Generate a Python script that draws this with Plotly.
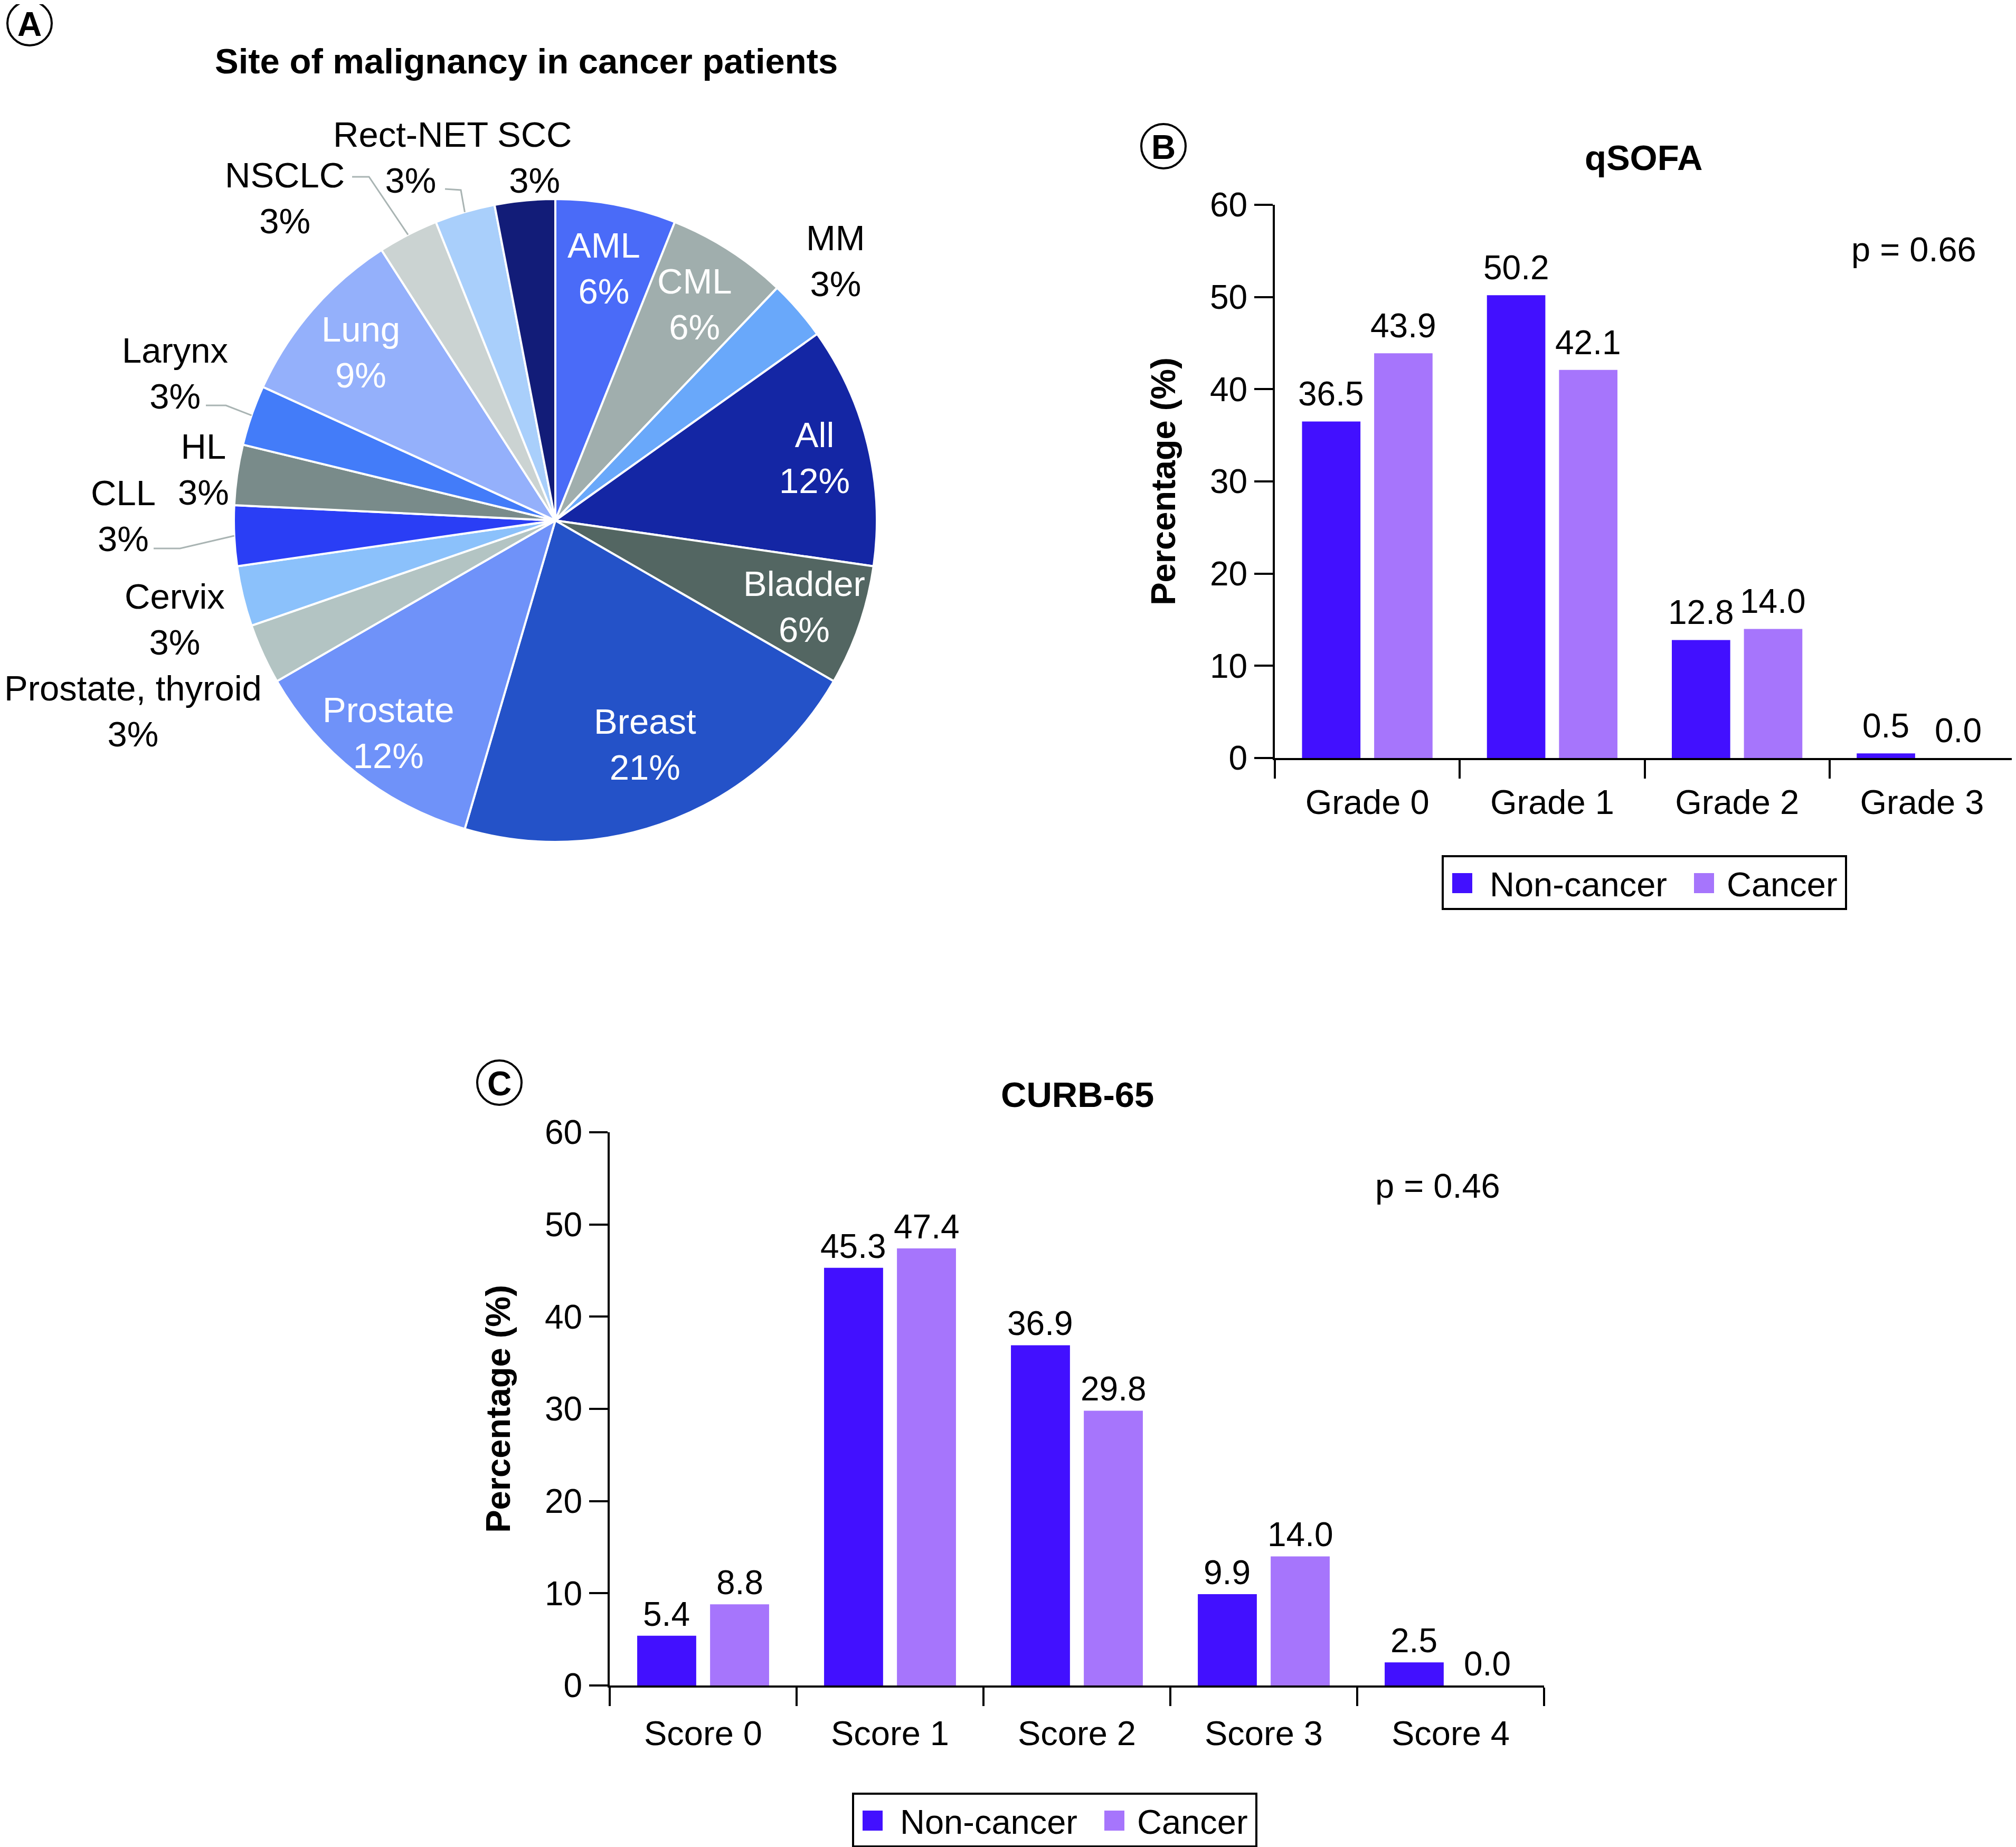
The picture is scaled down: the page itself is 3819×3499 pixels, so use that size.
import math
import plotly.graph_objects as go

W, H = 3819, 3499
OFF = 8  # the page body margin shifts the figure by this many pixels
FONT = "Liberation Sans, Arial, Helvetica, sans-serif"

# ---------------- Panel A data ----------------
sites = ["AML", "CML", "MM", "All", "Bladder", "Breast", "Prostate",
         "Prostate, thyroid", "Cervix", "CLL", "HL", "Larynx", "Lung",
         "NSCLC", "Rect-NET", "SCC"]
site_counts = [2, 2, 1, 4, 2, 7, 4, 1, 1, 1, 1, 1, 3, 1, 1, 1]
site_colors = ["#4a6bf8", "#a0aead", "#69a8fa", "#1426a4", "#536662", "#2452c8",
               "#6f92f9", "#b3c4c3", "#8bc1fb", "#2a3ef5", "#798b8a", "#437cf9",
               "#94b0fb", "#cbd3d2", "#a9cffb", "#121c78"]

# ---------------- Panel B data ----------------
qsofa_cats = ["Grade 0", "Grade 1", "Grade 2", "Grade 3"]
qsofa_noncancer = [36.5, 50.2, 12.8, 0.5]
qsofa_cancer = [43.9, 42.1, 14.0, 0.0]

# ---------------- Panel C data ----------------
curb_cats = ["Score 0", "Score 1", "Score 2", "Score 3", "Score 4"]
curb_noncancer = [5.4, 45.3, 36.9, 9.9, 2.5]
curb_cancer = [8.8, 47.4, 29.8, 14.0, 0.0]

series_names = ["Non-cancer", "Cancer"]
series_colors = ["#4210ff", "#a675fc"]
p_values = ["p = 0.66", "p = 0.46"]

BARGAP, BARGROUPGAP = 0.22, 0.19


def px(x):
    return (x - OFF) / W


def py(y):
    return 1 - (y - OFF) / H


fig = go.Figure()
annotations = []
shapes = []

# ---------------- Pie ----------------
CX, CY, R = 1052, 986, 609
fig.add_trace(go.Pie(
    labels=sites, values=site_counts, sort=False, direction="clockwise",
    rotation=0, textinfo="none", showlegend=False, automargin=False,
    marker=dict(colors=site_colors, line=dict(color="white", width=4)),
    domain=dict(x=[px(CX - R), px(CX + R)], y=[py(CY + R), py(CY - R)]),
))

# ---------------- Bars B and C ----------------
panels = [(qsofa_cats, [qsofa_noncancer, qsofa_cancer], "x", "y", 14),
          (curb_cats, [curb_noncancer, curb_cancer], "x2", "y2", 3)]
for cats, series, xa, ya, lift in panels:
    for k, (vals, name, col) in enumerate(zip(series, series_names, series_colors)):
        fig.add_trace(go.Bar(
            x=cats, y=vals, name=name, marker_color=col, showlegend=False,
            xaxis=xa, yaxis=ya))
        # value labels above bars, at the bar's position within its group
        for i, v in enumerate(vals):
            annotations.append(dict(
                x=i + (k - 0.5) * (1 - BARGAP) / 2, y=v, xref=xa, yref=ya,
                text=f"{v:.1f}", showarrow=False, xanchor="center", yanchor="bottom",
                yshift=lift, font=dict(size=64, color="black", family=FONT)))

axis_common = dict(showline=True, linewidth=4, linecolor="black", ticks="outside",
                   ticklen=35, tickwidth=4, tickcolor="black", showgrid=False,
                   zeroline=False, automargin=False,
                   tickfont=dict(size=65, color="black", family=FONT))
xcommon = dict(axis_common, type="category", tickson="boundaries")
ycommon = dict(axis_common, range=[0, 60], dtick=10, tick0=0,
               title=dict(text="<b>Percentage (%)</b>", standoff=45,
                          font=dict(size=65, color="black", family=FONT)))
ycommon["tickfont"] = dict(size=64, color="black", family=FONT)

fig.update_layout(
    template="none",
    width=W, height=H, autosize=False,
    margin=dict(l=0, r=0, t=0, b=0, pad=0, autoexpand=False),
    paper_bgcolor="white", plot_bgcolor="white",
    font=dict(family=FONT, color="black", size=65),
    barmode="group", bargap=BARGAP, bargroupgap=BARGROUPGAP,
    xaxis=dict(xcommon, domain=[px(2415), px(3816)], anchor="y", ticklabelstandoff=24),
    yaxis=dict(ycommon, domain=[py(1436), py(388)], anchor="x"),
    xaxis2=dict(xcommon, domain=[px(1155), px(2925)], anchor="y2", ticklabelstandoff=31),
    yaxis2=dict(ycommon, domain=[py(3193), py(2145)], anchor="x2"),
)


def note(x, y, text, size=65, color="black", xanchor="center", yanchor="middle"):
    annotations.append(dict(x=px(x), y=py(y), xref="paper", yref="paper", text=text,
                            showarrow=False, xanchor=xanchor, yanchor=yanchor,
                            font=dict(size=size, color=color, family=FONT)))


# pie slice labels
total = sum(site_counts)
mid_angles = []
cum = 0
for c in site_counts:
    mid_angles.append(2 * math.pi * (cum + c / 2) / total)
    cum += c

inside_factor = {"AML": 0.80, "CML": 0.80, "All": 0.83, "Bladder": 0.82,
                 "Breast": 0.75, "Prostate": 0.84, "Lung": 0.80}
outside_pos = {"MM": (1583, 494), "Rect-NET": (778, 298), "SCC": (1012, 298),
               "NSCLC": (539, 375), "Larynx": (331, 707), "HL": (385, 889),
               "CLL": (233, 977), "Cervix": (331, 1173),
               "Prostate, thyroid": (252, 1347)}
leader_start = {"NSCLC": [(667, 335), (699, 335)], "Rect-NET": [(843, 358), (873, 360)],
                "Larynx": [(390, 768), (428, 768)], "CLL": [(291, 1039), (341, 1039)]}

PIE_FS = 67
for name, c, th in zip(sites, site_counts, mid_angles):
    label = f"{name}<br>{round(100 * c / total)}%"
    if name in inside_factor:
        f = inside_factor[name]
        note(CX + f * R * math.sin(th), CY - f * R * math.cos(th), label,
             size=PIE_FS, color="white")
    else:
        x, y = outside_pos[name]
        note(x, y, label, size=PIE_FS)
    if name in leader_start:
        pts = leader_start[name] + [(CX + R * math.sin(th), CY - R * math.cos(th))]
        path = "M " + " L ".join(f"{px(a)},{py(b)}" for a, b in pts)
        shapes.append(dict(type="path", path=path, xref="paper", yref="paper",
                           line=dict(color="#a9b4b3", width=3)))

# titles
note(997, 116, "<b>Site of malignancy in cancer patients</b>", size=67)
note(3113, 299, "<b>qSOFA</b>", size=67)
note(2041, 2073, "<b>CURB-65</b>", size=67)

# p values
note(3625, 472, p_values[0])
note(2723, 2246, p_values[1])

# circled panel letters
for letter, (cx, cy) in zip(["A", "B", "C"], [(56, 44), (2204, 277), (946, 2051)]):
    r = 42
    shapes.append(dict(type="circle", xref="paper", yref="paper",
                       x0=px(cx - r), x1=px(cx + r), y0=py(cy + r), y1=py(cy - r),
                       line=dict(color="black", width=4)))
    note(cx, cy + 2, f"<b>{letter}</b>", size=64)


# legends
def legend(x0, y0):
    shapes.append(dict(type="rect", xref="paper", yref="paper",
                       x0=px(x0), x1=px(x0 + 764), y0=py(y0 + 100), y1=py(y0),
                       line=dict(color="black", width=4), fillcolor="rgba(0,0,0,0)"))
    for (sx, tx), name, col in zip([(18, 87), (476, 536)], series_names, series_colors):
        shapes.append(dict(type="rect", xref="paper", yref="paper",
                           x0=px(x0 + sx), x1=px(x0 + sx + 38),
                           y0=py(y0 + 70), y1=py(y0 + 32),
                           line=dict(width=0), fillcolor=col))
        note(x0 + tx, y0 + 53, name, xanchor="left")


legend(2733, 1622)
legend(1616, 3398)

fig.update_layout(annotations=annotations, shapes=shapes)
fig.write_html("out.html")
